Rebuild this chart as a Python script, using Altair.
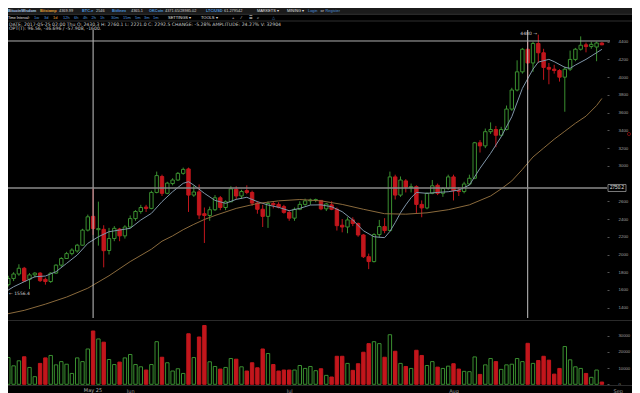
import altair as alt
import pandas as pd

# ---------------- data ----------------
dates = [d.strftime("%Y-%m-%d") for d in pd.date_range("2017-05-08", periods=114, freq="D")]

opens = [1570, 1660, 1730, 1780, 1845, 1720, 1770, 1790, 1720, 1695,
         1790, 1880, 1955, 2010, 2040, 2105, 2275, 2430.3, 2280, 2284,
         2045, 2180, 2287, 2210, 2310, 2405, 2485, 2535, 2520, 2700,
         2880, 2690, 2800, 2840, 2915, 2965, 2670, 2706, 2460, 2440,
         2505, 2640, 2530, 2595, 2735, 2660, 2720, 2700, 2580, 2510,
         2430, 2575, 2565, 2540, 2475, 2410, 2510, 2565, 2605, 2610,
         2610, 2515, 2560, 2510, 2330, 2310, 2390, 2350, 2220, 1975,
         1920, 2225, 2315, 2270, 2875, 2670, 2830, 2755, 2765, 2565,
         2525, 2690, 2780, 2690, 2745, 2875, 2720, 2710, 2795, 2860,
         3260, 3225, 3385, 3410, 3345, 3410, 3640, 3855, 4060, 4315,
         4160, 4380, 4275, 4110, 4090, 4075, 4000, 4090, 4200, 4315,
         4365, 4345, 4340, 4385]
highs = [1690, 1760, 1800, 1890, 1860, 1790, 1800, 1800, 1740, 1800,
         1890, 1970, 2030, 2070, 2120, 2290, 2450, 2760.1, 2596, 2330,
         2300, 2320, 2300, 2330, 2440, 2500, 2560, 2560, 2720, 2935,
         2900, 2820, 2860, 2930, 2980, 2980, 2780, 2790, 2530, 2540,
         2670, 2660, 2610, 2770, 2770, 2730, 2780, 2720, 2600, 2560,
         2600, 2600, 2590, 2560, 2500, 2530, 2600, 2630, 2630, 2630,
         2615, 2580, 2600, 2530, 2400, 2420, 2420, 2360, 2230, 2010,
         2240, 2390, 2410, 2935, 2900, 2880, 2850, 2800, 2780, 2610,
         2700, 2840, 2800, 2760, 2900, 2900, 2760, 2820, 2900, 3270,
         3290, 3420, 3490, 3450, 3440, 3680, 3880, 4190, 4330, 4400,
         4400, 4480, 4320, 4160, 4140, 4090, 4120, 4300, 4330, 4460,
         4390, 4400, 4400, 4395]
lows = [1556.4, 1640, 1700, 1760, 1690, 1610, 1740, 1690, 1660, 1680,
        1780, 1860, 1950, 1990, 2020, 2100, 2260, 2221.0, 2100, 1855,
        2000, 2150, 2150, 2180, 2300, 2380, 2460, 2480, 2510, 2690,
        2660, 2680, 2780, 2830, 2900, 2480, 2650, 2400, 2130, 2380,
        2490, 2500, 2500, 2590, 2620, 2630, 2680, 2550, 2460, 2310,
        2300, 2520, 2520, 2460, 2380, 2380, 2500, 2550, 2560, 2590,
        2500, 2490, 2500, 2270, 2250, 2240, 2320, 2200, 1960, 1835,
        1910, 2190, 2240, 2260, 2620, 2650, 2700, 2700, 2460, 2420,
        2510, 2680, 2670, 2650, 2730, 2610, 2660, 2690, 2780, 2850,
        3150, 3200, 3360, 3210, 3330, 3400, 3620, 3840, 4040, 3860,
        4060, 4160, 3970, 3920, 4040, 3950, 3610, 4070, 4180, 4300,
        4280, 4320, 4180, 4360]
closes = [1660, 1730, 1780, 1845, 1700, 1770, 1790, 1705, 1695, 1790,
          1880, 1955, 2010, 2050, 2105, 2275, 2425, 2292.5, 2292, 2043,
          2180, 2295, 2210, 2310, 2405, 2485, 2530, 2520, 2700, 2890,
          2690, 2805, 2840, 2915, 2960, 2670, 2705, 2445, 2440, 2505,
          2640, 2530, 2595, 2740, 2660, 2710, 2700, 2580, 2510, 2430,
          2575, 2560, 2535, 2475, 2410, 2510, 2565, 2605, 2615, 2620,
          2515, 2570, 2510, 2325, 2310, 2390, 2350, 2220, 1975, 1920,
          2225, 2315, 2270, 2875, 2670, 2840, 2760, 2765, 2565, 2525,
          2690, 2775, 2690, 2745, 2875, 2720, 2710, 2795, 2860, 3260,
          3225, 3385, 3410, 3345, 3410, 3640, 3855, 4060, 4315, 4160,
          4380, 4275, 4110, 4090, 4075, 4000, 4090, 4200, 4315, 4360,
          4345, 4370, 4385, 4365]
volumes = [19000, 16500, 11400, 14500, 17000, 10400, 4700, 12900, 16300, 17800,
           12000, 14000, 12400, 6700, 16300, 14000, 21800, 32904, 28000, 26000,
           15300, 12200, 13700, 16300, 18400, 12200, 10800, 8800, 12200, 26300,
           16700, 13300, 8200, 9600, 6700, 31200, 16500, 29200, 36300, 13900,
           11000, 9400, 10400, 15900, 15500, 10800, 8200, 13300, 10200, 21800,
           19000, 12200, 8200, 8800, 8800, 8800, 11600, 9800, 11000, 8400,
           9600, 5500, 4500, 17300, 17300, 12900, 8600, 12700, 19800, 25100,
           26300, 25100, 16700, 30600, 20400, 12900, 11000, 9800, 21000, 17800,
           11600, 14000, 10600, 9800, 11200, 12700, 9400, 8000, 7800, 16900,
           6100, 12000, 15900, 14000, 9200, 12000, 12400, 15900, 14000, 25300,
           12900, 14700, 17300, 14900, 6300, 9800, 23300, 15100, 10800, 9800,
           6700, 4300, 8800, 1400]

# short moving average (blue-grey), read at candle indices
ma_fast_idx = [0, 2, 4, 6, 8, 10, 12, 14, 16, 18, 20, 22, 24, 26, 28, 30, 32, 34, 35, 36,
               38, 40, 42, 44, 46, 48, 50, 52, 54, 56, 58, 60, 62, 64, 66, 68, 70, 72, 73, 74,
               75, 76, 77, 78, 80, 82, 84, 86, 88, 90, 92, 94, 96, 98, 100, 101, 103, 104, 106,
               107, 108, 110, 112, 113]
ma_fast_val = [1562, 1636, 1693, 1749, 1757, 1806, 1900, 1994, 2126, 2200, 2257, 2276, 2295, 2389,
               2464, 2596, 2708, 2803, 2821, 2783, 2690, 2610, 2577, 2622, 2645, 2596, 2558, 2532,
               2494, 2520, 2558, 2560, 2539, 2483, 2389, 2268, 2200, 2190, 2260, 2360, 2470, 2560,
               2640, 2700, 2690, 2700, 2708, 2727, 2783, 2972, 3141, 3328, 3554, 3874, 4090, 4170,
               4201, 4175, 4111, 4100, 4137, 4201, 4276, 4314]

# long moving average (brown), read at candle indices
ma_slow_idx = [0, 4, 8, 12, 16, 20, 24, 28, 30, 32, 34, 36, 38, 40, 44, 48, 52, 56, 60, 64,
               68, 72, 76, 80, 84, 88, 90, 92, 94, 96, 98, 100, 102, 104, 106, 108, 110, 112, 113]
ma_slow_val = [1320, 1370, 1440, 1520, 1620, 1760, 1920, 2060, 2150, 2210, 2280, 2340, 2395, 2440,
               2520, 2575, 2605, 2620, 2605, 2565, 2510, 2460, 2455, 2470, 2505, 2560, 2610, 2660,
               2740, 2830, 2960, 3100, 3200, 3300, 3390, 3480, 3560, 3680, 3760]

price_ticks = [1400, 1600, 1800, 2000, 2200, 2400, 2600, 3000, 3200, 3400, 3600, 3800, 4000, 4200, 4400]
volume_ticks = [0, 10000, 20000, 30000]
month_ticks = [6, 7, 8, 9]

# ---------------- styling / layout ----------------
OFF = 8  # page margin: chart coordinates are page coordinates minus this
W, H = 624, 385
FONT = "DejaVu Sans"
NARROW = "Liberation Sans, Arial, sans-serif"
GREEN = "#3a8f30"
VGREEN = "#22621f"
RED = "#c2161c"
BLUE_T = "#4d94dc"

ms_day = 86400000
t_base = pd.Timestamp("2017-05-08", tz="UTC").value // 10**6
# page x = 3 + 5.3 * day_index ; chart spans page x 8 .. 632
x_scale = alt.Scale(type="utc", domain=[t_base + (5 / 5.3) * ms_day, t_base + (629 / 5.3) * ms_day],
                    padding=0, nice=False)
p_scale = alt.Scale(domain=[1400, 4400], range=[299.7, 33.7], nice=False, zero=False, padding=0)
v_scale = alt.Scale(domain=[0, 30000], range=[376.3, 327.7], nice=False, zero=False, padding=0)

AX_OFF = -25  # axis line at page x 607
x_axis = alt.Axis(orient="bottom", offset=-6, format="%b", domain=False, grid=False,
                  tickSize=0, labelPadding=1, labelFont=FONT, labelFontSize=5,
                  labelColor="#9a9a9a", labelBaseline="top", title=None,
                  values=[alt.DateTime(year=2017, month=m, date=1, utc=True) for m in month_ticks])
xenc = alt.X("date:T", scale=x_scale, axis=x_axis)

df = pd.DataFrame({"date": dates, "open": opens, "high": highs, "low": lows,
                   "close": closes, "volume": volumes})
df["dir"] = ["up" if c >= o else "down" for o, c in zip(opens, closes)]

fast = pd.DataFrame({"date": [dates[i] for i in ma_fast_idx], "v": ma_fast_val})
slow = pd.DataFrame({"date": [dates[i] for i in ma_slow_idx], "v": ma_slow_val})

one = pd.DataFrame({"k": [0]})


def X(px):
    return px - OFF


def txt(s, xp, yp, color="#cfcfcf", size=5.0, weight="normal", align="left", font=NARROW):
    return alt.Chart(pd.DataFrame({"t": [s]})).mark_text(
        font=font, fontSize=size, fontWeight=weight, align=align, baseline="middle", color=color
    ).encode(text="t:N", x=alt.value(X(xp)), y=alt.value(X(yp)))


def hrule(yp, x1, x2, color, w=1.0):
    return alt.Chart(one).mark_rule(color=color, strokeWidth=w).encode(
        y=alt.value(X(yp)), x=alt.value(X(x1)), x2=alt.value(X(x2)))


dir_color = alt.Scale(domain=["up", "down"], range=[GREEN, RED])
price_axis = alt.Axis(orient="right", offset=AX_OFF, values=price_ticks, format="d",
                      domain=False, grid=False, tickSize=2, tickColor="#555555",
                      labelPadding=9, labelFont=NARROW, labelFontSize=4.4,
                      labelColor="#a0a0a0", labelAlign="left", title=None)
vol_axis = alt.Axis(orient="right", offset=AX_OFF, values=volume_ticks, format="d",
                    domain=False, grid=False, tickSize=2, tickColor="#555555",
                    labelPadding=9, labelFont=NARROW, labelFontSize=4.2,
                    labelColor="#a0a0a0", labelAlign="left", title=None)

# header background
head_bg = alt.Chart(one).mark_rect(color="#1b1b1b").encode(
    x=alt.value(0), x2=alt.value(W), y=alt.value(0), y2=alt.value(X(14)))

layers = [head_bg,
          hrule(14.3, 0, 640, "#333333"), hrule(21, 0, 640, "#2e2e2e"),
          hrule(320.5, 0, 640, "#2a2a2a"), hrule(385.5, 0, 640, "#2a2a2a")]

# row 1
row1 = [("BitcoinWisdom", 8, "#a9c7e8", "bold"), ("Bitstamp", 40, "#e0a03a", "bold"),
        ("4369.99", 59, "#d0d0d0", "normal"), ("BTC-e", 82, BLUE_T, "bold"),
        ("2546", 96, "#d0d0d0", "normal"), ("Bitfinex", 112, BLUE_T, "bold"),
        ("4365.1", 131, "#d0d0d0", "normal"), ("OKCoin", 149, BLUE_T, "bold"),
        ("4371.65/28985.02", 165, "#d0d0d0", "normal"), ("LTC/USD", 206, BLUE_T, "bold"),
        ("61.279542", 224, "#d0d0d0", "normal"), ("MARKETS ▾", 257, "#e0e0e0", "normal"),
        ("MINING ▾", 287, "#e0e0e0", "normal"), ("Login", 308, BLUE_T, "normal"),
        ("or", 320.5, "#d0d0d0", "normal"), ("Register", 325.5, BLUE_T, "normal")]
for s, xp, c, w in row1:
    layers.append(txt(s, xp, 11, c, 3.9, w))

# row 2
layers.append(txt("Time Interval:", 8, 17.6, "#e0e0e0", 3.6))
intervals = [("1w", 34), ("3d", 44), ("1d", 53), ("12h", 63), ("6h", 74), ("4h", 83),
             ("2h", 91.5), ("1h", 100), ("30m", 111), ("15m", 123), ("5m", 135), ("3m", 144),
             ("1m", 153)]
for s, xp in intervals:
    layers.append(txt(s, xp, 17.6, "#e0a03a" if s == "1d" else BLUE_T, 4.0))
for s, xp in [("SETTINGS ▾", 168), ("TOOLS ▾", 201), ("+", 232), ("⁄", 241), ("☰", 249), ("⌕", 257)]:
    layers.append(txt(s, xp, 17.6, "#e0e0e0", 4.0))
layers.append(txt("△", 272, 17.6, BLUE_T, 4.0))

# info rows
layers.append(txt("DATE: 2017-05-25 02:00 Thu   O: 2430.3   H: 2760.1   L: 2221.0   C: 2292.5   "
                  "CHANGE: -5.28%   AMPLITUDE: 24.27%   V: 32904", 9, 24.5, "#c8c8c8", 4.6, font=FONT))
layers.append(txt("OPT(T): 96.56, -36.696 / -57.908, -1600.", 9, 29, "#c8c8c8", 4.6, font=FONT))

# candles
wicks = alt.Chart(df).mark_rule(strokeWidth=1).encode(
    x=xenc, y=alt.Y("low:Q", scale=p_scale, axis=price_axis),
    y2="high:Q", color=alt.Color("dir:N", scale=dir_color, legend=None))
bodies = alt.Chart(df).mark_bar(width=3.4, strokeWidth=1).encode(
    x=xenc, y=alt.Y("open:Q", scale=p_scale, axis=None), y2="close:Q",
    fill=alt.Fill("dir:N", scale=alt.Scale(domain=["up", "down"], range=["#000000", RED]), legend=None),
    stroke=alt.Stroke("dir:N", scale=dir_color, legend=None))

# volume
vol = alt.Chart(df).mark_bar(width=3.4, strokeWidth=1).encode(
    x=xenc,
    y=alt.Y("volume:Q", scale=v_scale, axis=vol_axis),
    y2=alt.datum(0),
    fill=alt.Fill("dir:N", scale=alt.Scale(domain=["up", "down"], range=["#000000", RED]), legend=None),
    stroke=alt.Stroke("dir:N", scale=alt.Scale(domain=["up", "down"], range=[VGREEN, RED]), legend=None))

fast_line = alt.Chart(fast).mark_line(color="#7f95a8", strokeWidth=1).encode(
    x=xenc, y=alt.Y("v:Q", scale=p_scale, axis=None))
slow_line = alt.Chart(slow).mark_line(color="#8a6a3c", strokeWidth=1).encode(
    x=xenc, y=alt.Y("v:Q", scale=p_scale, axis=None))

layers += [wicks, bodies, vol, fast_line, slow_line]

# cross-hair / marker lines
vlines = alt.Chart(pd.DataFrame({"date": ["2017-05-25", "2017-08-15"]})).mark_rule(
    color="#c4c4c4", strokeWidth=1).encode(x=xenc, y=alt.value(X(30)), y2=alt.value(X(318)))
top_line = alt.Chart(pd.DataFrame({"p": [4408]})).mark_rule(color="#b0b0b0", strokeWidth=1).encode(
    y=alt.Y("p:Q", scale=p_scale, axis=None), x=alt.value(0), x2=alt.value(X(610)))
cross_h = alt.Chart(pd.DataFrame({"p": [2750.2]})).mark_rule(color="#8a8a8a", strokeWidth=1.5).encode(
    y=alt.Y("p:Q", scale=p_scale, axis=None), x=alt.value(0), x2=alt.value(X(607)))
tag = alt.Chart(pd.DataFrame({"p": [2750.2]})).mark_rect(
    fill="#000000", stroke="#9a9a9a", strokeWidth=0.8, height=7).encode(
    y=alt.Y("p:Q", scale=p_scale, axis=None), x=alt.value(X(608)), x2=alt.value(X(626)))
tag_txt = alt.Chart(pd.DataFrame({"p": [2750.2], "t": ["2750.2"]})).mark_text(
    font=NARROW, fontSize=4.6, color="#e0e0e0", align="center", baseline="middle").encode(
    y=alt.Y("p:Q", scale=p_scale, axis=None), x=alt.value(X(617)), text="t:N")

layers += [vlines, top_line, cross_h, tag, tag_txt,
           txt("4480 →", 537, 33.5, "#d0d0d0", 4.5, font=FONT, align="right"),
           txt("← 1556.4", 9, 294, "#d0d0d0", 4.5, font=FONT),
           txt("May 25", 93, 390, "#b0b0b0", 5, font=FONT, align="center"),
           alt.Chart(one).mark_point(shape="circle", size=10, color="#a01010", strokeWidth=1).encode(
               x=alt.value(X(629)), y=alt.value(X(134)))]

chart = alt.layer(*layers).resolve_scale(y="independent").properties(
    width=W, height=H, autosize="none", padding=0, background="#000000"
).configure_view(stroke=None)

chart.save("out.html", embed_options={"renderer": "svg", "actions": False})
